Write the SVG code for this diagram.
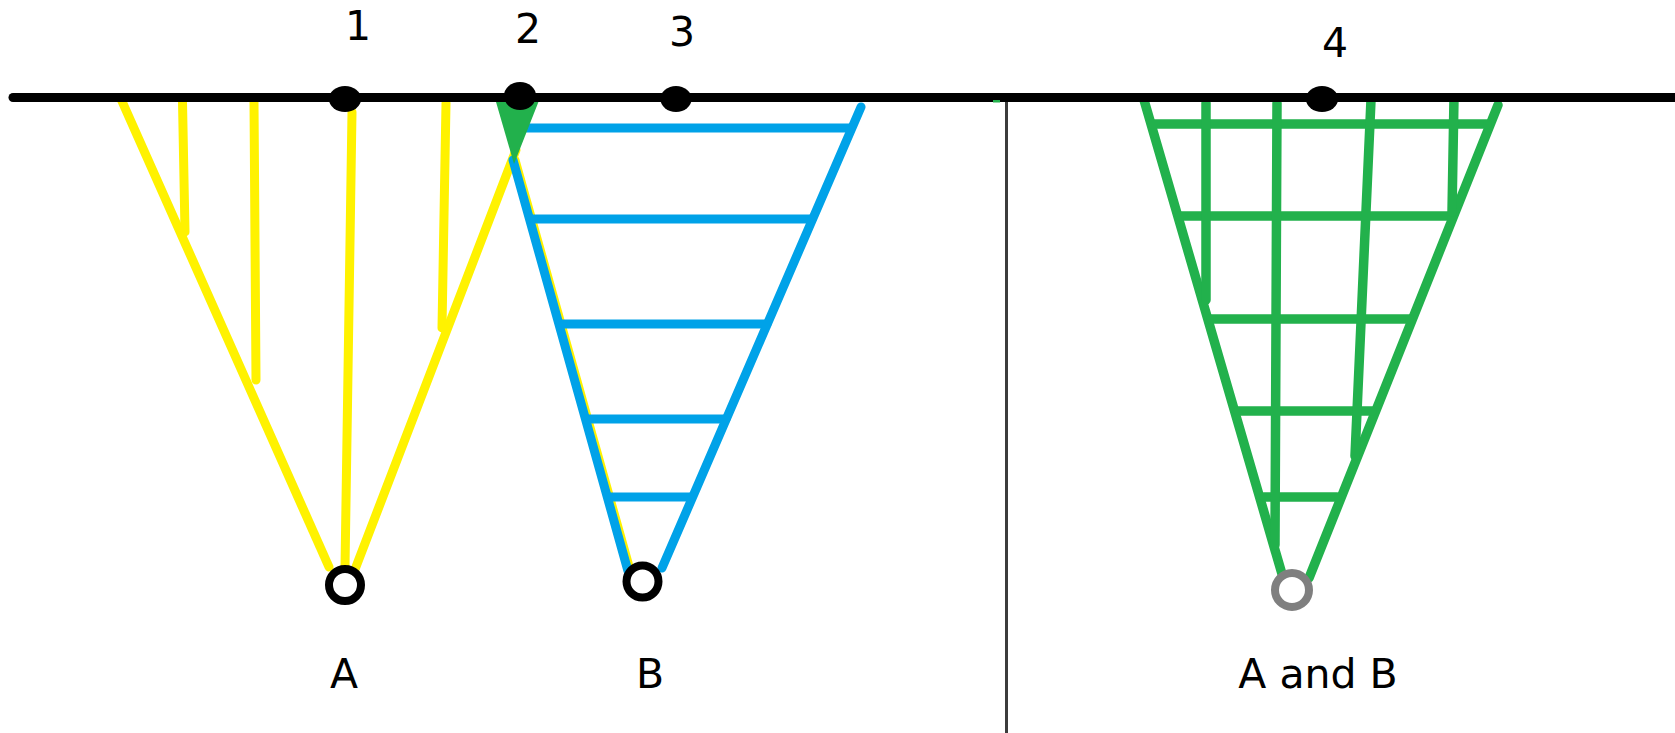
<svg xmlns="http://www.w3.org/2000/svg" width="1675" height="733" viewBox="0 0 1675 733">
<style>
.y{stroke:#fff200;stroke-width:9;stroke-linecap:round;fill:none}
.b{stroke:#00a2e8;stroke-width:9;stroke-linecap:round;fill:none}
.g{stroke:#22b14c;stroke-width:9.5;stroke-linecap:round;fill:none}
.dot{fill:#000}
.ring{fill:#fff;stroke-width:8}
.lbl{font-family:"DejaVu Sans",sans-serif;font-size:41px;fill:#000;text-anchor:middle}
</style>
<rect width="1675" height="733" fill="#fff"/>
<g id="connectors">
  <g id="tree-A">
    <line class="y" x1="121" y1="99" x2="329" y2="567"/>
    <line class="y" x1="182.5" y1="102" x2="185" y2="232"/>
    <line class="y" x1="254" y1="102" x2="256" y2="380"/>
    <line class="y" x1="352" y1="112" x2="345" y2="567"/>
    <line class="y" x1="446" y1="103" x2="442" y2="328"/>
    <line class="y" x1="516" y1="150" x2="354" y2="572"/>
    <line class="y" x1="515" y1="160" x2="630" y2="570"/>
  </g>
  <g id="tree-B">
    <line class="b" x1="513" y1="160" x2="628" y2="571"/>
    <line class="b" x1="861" y1="107" x2="662" y2="568"/>
    <line class="b" x1="527" y1="128" x2="851" y2="128"/>
    <line class="b" x1="533" y1="219" x2="812" y2="219"/>
    <line class="b" x1="561" y1="324" x2="767" y2="324"/>
    <line class="b" x1="588" y1="419" x2="726" y2="419"/>
    <line class="b" x1="611" y1="497" x2="690" y2="497"/>
  </g>
  <g id="tree-AB">
    <line class="g" x1="1144" y1="100" x2="1282" y2="574"/>
    <line class="g" x1="1498" y1="105" x2="1309" y2="578"/>
    <line class="g" x1="1152" y1="124" x2="1487" y2="124"/>
    <line class="g" x1="1180" y1="216" x2="1451" y2="216"/>
    <line class="g" x1="1211" y1="319" x2="1409" y2="319"/>
    <line class="g" x1="1238" y1="411" x2="1372" y2="411"/>
    <line class="g" x1="1264" y1="497" x2="1337" y2="497"/>
    <line class="g" x1="1206" y1="103" x2="1206" y2="300"/>
    <line class="g" x1="1277" y1="103" x2="1275" y2="545"/>
    <line class="g" x1="1371" y1="100" x2="1355" y2="456"/>
    <line class="g" x1="1454" y1="98" x2="1452" y2="212"/>
  </g>
  <polygon id="green-wedge" points="494,95 540,98 514,164" fill="#22b14c"/>
  <line id="divider" x1="1006.5" y1="100" x2="1006.5" y2="733" stroke="#3c3c3c" stroke-width="3"/>
  <line id="baseline" x1="13" y1="97.5" x2="1675" y2="97.5" stroke="#000" stroke-width="9" stroke-linecap="round"/>
  <rect x="993" y="100" width="7" height="2.5" fill="#22b14c"/>
</g>
<g id="dot-1"><ellipse class="dot" cx="345" cy="99" rx="16" ry="13"/><text class="lbl" x="358" y="40">1</text></g>
<g id="dot-2"><ellipse class="dot" cx="520" cy="96" rx="16" ry="14"/><text class="lbl" x="528" y="43">2</text></g>
<g id="dot-3"><ellipse class="dot" cx="676" cy="99" rx="15.5" ry="13"/><text class="lbl" x="682" y="46">3</text></g>
<g id="dot-4"><ellipse class="dot" cx="1322" cy="99" rx="16" ry="13"/><text class="lbl" x="1335" y="57">4</text></g>
<g id="node-A"><circle class="ring" cx="345" cy="585" r="16" style="stroke:#000"/><text class="lbl" x="344" y="688">A</text></g>
<g id="node-B"><circle class="ring" cx="642.5" cy="581.5" r="16" style="stroke:#000"/><text class="lbl" x="650" y="688">B</text></g>
<g id="node-AB"><circle class="ring" cx="1292" cy="590" r="17" style="stroke:#7f7f7f"/><text class="lbl" x="1318" y="688">A and B</text></g>
</svg>
